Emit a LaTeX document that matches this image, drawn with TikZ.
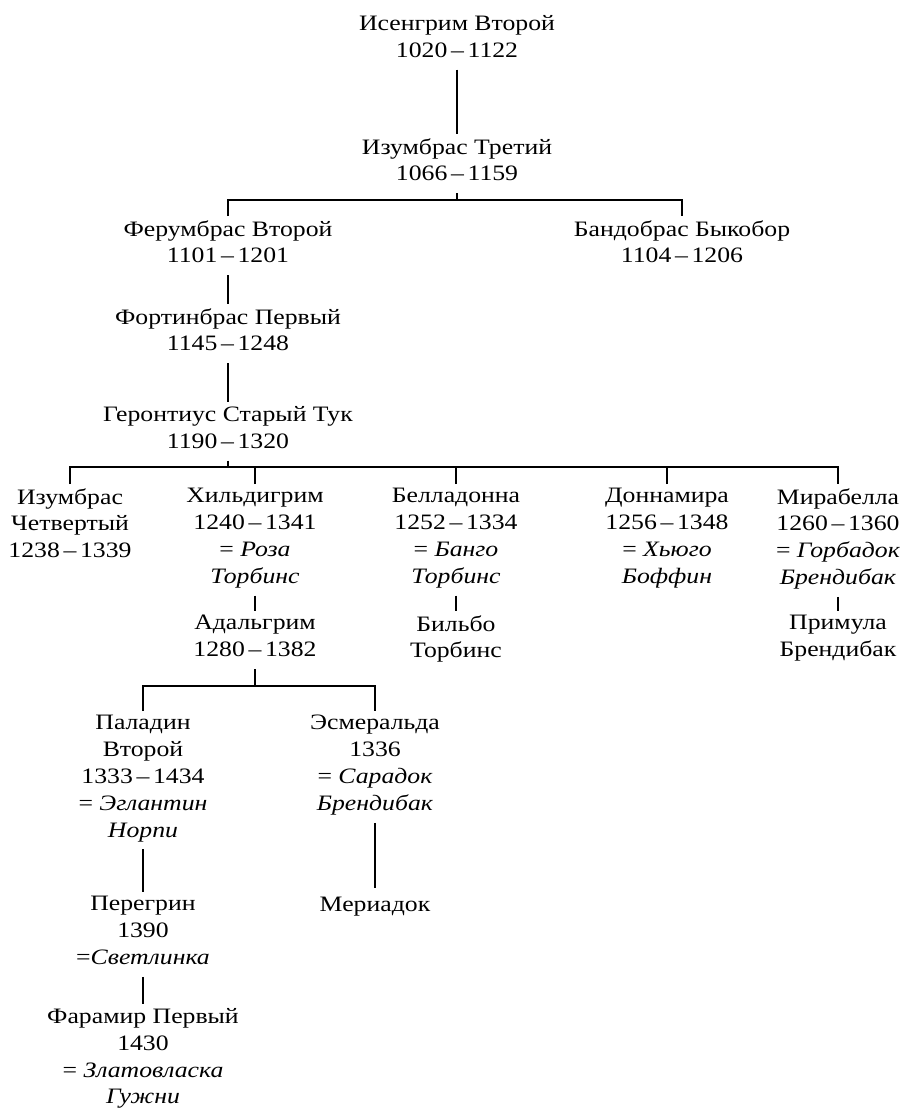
\documentclass[tikz,border=0pt]{standalone}
\usepackage{fontspec}
\setmainfont{Liberation Serif}[FakeStretch=1.17]
\usepackage{tikz}

\tikzset{
	person/.style={anchor=north, align=center, inner sep=2pt,
		font=\fontsize{11}{13.4}\selectfont, execute at begin node=\strut},
	tie/.style={line width=0.65pt}
}
\newcommand{\yrs}[2]{#1\,--\,#2}

\begin{document}
\begin{tikzpicture}[x=0.5pt, y=-0.5pt]
	\useasboundingbox (0,0) rectangle (906,1110);
	% first generations
	\node (isengrim) [person] at (457,11) {Исенгрим Второй\\\yrs{1020}{1122}};
	\node (izumbras3) [person] at (457,134) {Изумбрас Третий\\\yrs{1066}{1159}};
	\node (ferumbras) [person] at (228,216) {Ферумбрас Второй\\\yrs{1101}{1201}};
	\node (bandobras) [person] at (682,216) {Бандобрас Быкобор\\\yrs{1104}{1206}};
	\node (fortinbras) [person] at (228,304) {Фортинбрас Первый\\\yrs{1145}{1248}};
	\node (gerontius) [person] at (228,402) {Геронтиус Старый Тук\\\yrs{1190}{1320}};
	% children of the Old Took
	\node (izumbras4) [person] at (70,484) {Изумбрас\\Четвертый\\\yrs{1238}{1339}};
	\node (hildigrim) [person] at (255,484) {Хильдигрим\\\yrs{1240}{1341}\\= \textit{Роза}\\\textit{Торбинс}};
	\node (belladonna) [person] at (456,484) {Белладонна\\\yrs{1252}{1334}\\= \textit{Банго}\\\textit{Торбинс}};
	\node (donnamira) [person] at (667,484) {Доннамира\\\yrs{1256}{1348}\\= \textit{Хьюго}\\\textit{Боффин}};
	\node (mirabella) [person] at (838,484) {Мирабелла\\\yrs{1260}{1360}\\= \textit{Горбадок}\\\textit{Брендибак}};
	\node (adalgrim) [person] at (255,611) {Адальгрим\\\yrs{1280}{1382}};
	\node (bilbo) [person] at (456,611) {Бильбо\\Торбинс};
	\node (primula) [person] at (838,611) {Примула\\Брендибак};
	% later generations
	\node (paladin) [person] at (143,711) {Паладин\\Второй\\\yrs{1333}{1434}\\= \textit{Эглантин}\\\textit{Норпи}};
	\node (esmeralda) [person] at (375,711) {Эсмеральда\\1336\\= \textit{Сарадок}\\\textit{Брендибак}};
	\node (meriadoc) [person] at (375,888) {Мериадок};
	\node (peregrin) [person] at (143,892) {Перегрин\\1390\\=\textit{Светлинка}};
	\node (faramir) [person] at (143,1004) {Фарамир Первый\\1430\\= \textit{Златовласка}\\\textit{Гужни}};

	\coordinate (bar1) at (0,200);
	\coordinate (bar2) at (0,467);
	\coordinate (bar3) at (0,686);

	\draw[tie] (isengrim) -- (izumbras3);
	\draw[tie] (izumbras3.south) -- (izumbras3.south |- bar1);
	\draw[tie] (ferumbras.north) -- (ferumbras.north |- bar1) -- (bandobras.north |- bar1) -- (bandobras.north);
	\draw[tie] (ferumbras) -- (fortinbras);
	\draw[tie] (fortinbras) -- (gerontius);
	\draw[tie] (gerontius.south) -- (gerontius.south |- bar2);
	\draw[tie] (izumbras4.north) -- (izumbras4.north |- bar2) -- (mirabella.north |- bar2) -- (mirabella.north);
	\draw[tie] (hildigrim.north) -- (hildigrim.north |- bar2);
	\draw[tie] (belladonna.north) -- (belladonna.north |- bar2);
	\draw[tie] (donnamira.north) -- (donnamira.north |- bar2);
	\draw[tie] (hildigrim) -- (adalgrim);
	\draw[tie] (belladonna) -- (bilbo);
	\draw[tie] (mirabella) -- (primula);
	\draw[tie] (adalgrim.south) -- (adalgrim.south |- bar3);
	\draw[tie] (paladin.north) -- (paladin.north |- bar3) -- (esmeralda.north |- bar3) -- (esmeralda.north);
	\draw[tie] (esmeralda) -- (meriadoc);
	\draw[tie] (paladin) -- (peregrin);
	\draw[tie] (peregrin) -- (faramir);
\end{tikzpicture}
\end{document}
